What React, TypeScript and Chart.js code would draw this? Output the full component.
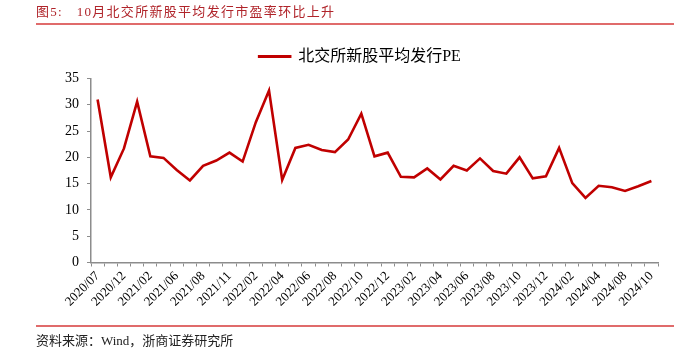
import React, { useEffect, useRef } from 'react';
import { Chart, registerables } from 'chart.js';

Chart.register(...registerables);

const categories: string[] = [
  '2020/07', '2020/09', '2020/12', '2021/01', '2021/02', '2021/04', '2021/06', '2021/07',
  '2021/08', '2021/09', '2021/11', '2021/12', '2022/02', '2022/03', '2022/04', '2022/05',
  '2022/06', '2022/07', '2022/08', '2022/09', '2022/10', '2022/11', '2022/12', '2023/01',
  '2023/02', '2023/03', '2023/04', '2023/05', '2023/06', '2023/07', '2023/08', '2023/09',
  '2023/10', '2023/11', '2023/12', '2024/01', '2024/02', '2024/03', '2024/04', '2024/06',
  '2024/08', '2024/09', '2024/10',
];

const peValues: number[] = [
  31.0, 16.2, 21.7, 30.6, 20.2, 19.9, 17.6, 15.6,
  18.4, 19.4, 20.9, 19.2, 26.7, 32.7, 15.7, 21.8,
  22.4, 21.4, 21.0, 23.4, 28.3, 20.2, 20.9, 16.3,
  16.2, 17.9, 15.8, 18.4, 17.5, 19.8, 17.4, 16.9,
  20.0, 16.0, 16.4, 21.8, 15.1, 12.3, 14.6, 14.3,
  13.6, 14.5, 15.5,
];

const shownLabels: string[] = [
  '2020/07', '2020/12', '2021/02', '2021/06', '2021/08', '2021/11', '2022/02', '2022/04',
  '2022/06', '2022/08', '2022/10', '2022/12', '2023/02', '2023/04', '2023/06', '2023/08',
  '2023/10', '2023/12', '2024/02', '2024/04', '2024/08', '2024/10',
];

const seriesName = '北交所新股平均发行PE';
const titleText = '图5:   10月北交所新股平均发行市盈率环比上升';
const sourceText = '资料来源：Wind，浙商证券研究所';

const serif = "'Times New Roman', 'Liberation Serif', 'Noto Sans CJK SC', serif";

export default function App() {
  const ref = useRef<HTMLCanvasElement>(null);

  useEffect(() => {
    if (!ref.current) return;
    const chart = new Chart(ref.current, {
      type: 'line',
      data: {
        labels: categories,
        datasets: [
          {
            label: seriesName,
            data: peValues,
            borderColor: '#c00000',
            backgroundColor: '#c00000',
            borderWidth: 2.6,
            pointRadius: 0,
            tension: 0,
          },
        ],
      },
      options: {
        responsive: false,
        animation: false,
        layout: { padding: { top: 32.5, right: 24, bottom: 30.5, left: 62 } },
        plugins: {
          tooltip: { enabled: false },
          legend: {
            position: 'top',
            labels: {
              boxWidth: 31,
              boxHeight: 0.4,
              color: '#000',
              font: { size: 16, family: serif },
              padding: 16,
            },
          },
          subtitle: {
            display: true,
            text: '',
            position: 'top',
            weight: 500,
            font: { size: 1 },
            padding: { top: 0, bottom: 2.8 },
          },
        },
        scales: {
          x: {
            offset: true,
            grid: { offset: true, drawOnChartArea: false, tickLength: 4, color: '#8c8c8c', lineWidth: 1 },
            border: { color: '#8c8c8c', width: 1.5 },
            ticks: {
              autoSkip: false,
              maxRotation: 45,
              minRotation: 45,
              padding: 2,
              color: '#000',
              font: { size: 13, family: serif },
              callback: (_v: any, i: number) => (shownLabels.includes(categories[i]) ? categories[i] : ''),
            },
            afterFit: (s: any) => {
              s.height = 60;
            },
          },
          y: {
            min: 0,
            max: 35,
            grid: { drawOnChartArea: false, tickLength: 4, color: '#8c8c8c' },
            border: { color: '#8c8c8c', width: 1.5 },
            ticks: {
              stepSize: 5,
              padding: 8,
              color: '#000',
              font: { size: 14, family: serif },
            },
            afterFit: (s: any) => {
              s.width = 29;
            },
          },
        },
      },
    } as any);
    return () => chart.destroy();
  }, []);

  return (
    <div style={{ position: 'absolute', left: 0, top: 0, width: 682, height: 353, background: '#fff' }}>
      <canvas ref={ref} width={682} height={353} style={{ position: 'absolute', left: 0, top: 0, display: 'block' }} />
      <div
        style={{
          position: 'absolute',
          left: 36,
          top: 3,
          fontSize: 13,
          letterSpacing: 1.3,
          whiteSpace: 'pre',
          color: '#b0242a',
          fontFamily: serif,
          lineHeight: '18px',
        }}
      >
        {titleText}
      </div>
      <div style={{ position: 'absolute', left: 36, top: 23, width: 638, height: 2, background: '#e06b6b' }} />
      <div style={{ position: 'absolute', left: 36, top: 325, width: 638, height: 2, background: '#e06b6b' }} />
      <div
        style={{
          position: 'absolute',
          left: 36,
          top: 332,
          fontSize: 13,
          whiteSpace: 'pre',
          color: '#222',
          fontFamily: serif,
          lineHeight: '18px',
        }}
      >
        {sourceText}
      </div>
    </div>
  );
}
